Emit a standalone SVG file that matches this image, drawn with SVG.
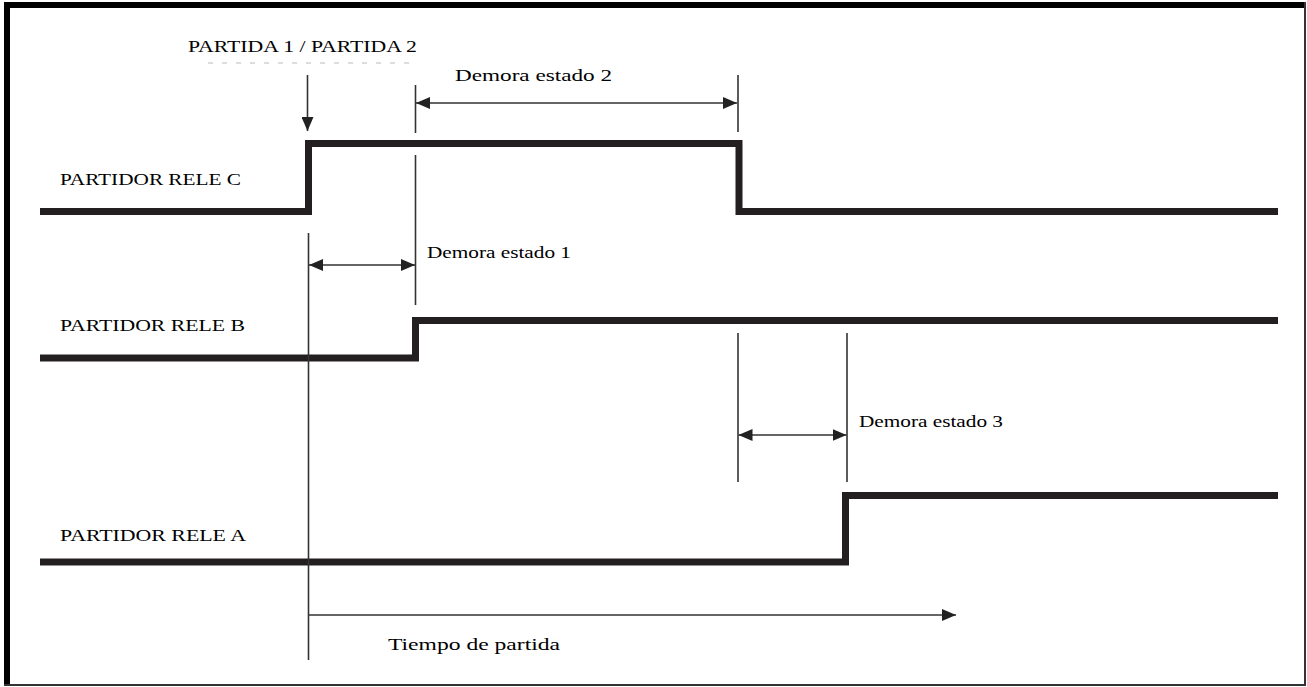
<svg xmlns="http://www.w3.org/2000/svg" width="1307" height="687" viewBox="0 0 1307 687">
<style>
.wave{fill:none;stroke:#231f20;stroke-width:7;stroke-linejoin:miter;stroke-linecap:butt}
.thin{fill:none;stroke:#333;stroke-width:1.6}
.lbl{font-family:"Liberation Serif","Times New Roman",serif;font-size:17px;fill:#000}
</style>
<defs>
<marker id="ah" viewBox="0 0 14 12" refX="14" refY="6" markerWidth="14" markerHeight="12" markerUnits="userSpaceOnUse" orient="auto-start-reverse">
<path d="M0 0 L14 6 L0 12 Z" fill="#222"/>
</marker>
</defs>
<rect x="0" y="0" width="1307" height="687" fill="#fff"/>
<g id="frame">
<line x1="4" y1="5" x2="1306" y2="5" stroke="#000" stroke-width="6"/>
<line x1="7" y1="2" x2="7" y2="686" stroke="#000" stroke-width="6"/>
<line x1="1305" y1="2" x2="1305" y2="686" stroke="#333" stroke-width="2"/>
<line x1="4" y1="685" x2="1306" y2="685" stroke="#333" stroke-width="2"/>
</g>
<g id="signal-c">
<path class="wave" d="M40 211.5 H308.5 V143.5 H739 V211.5 H1278"/>
<text class="lbl" x="60" y="185" textLength="181" lengthAdjust="spacingAndGlyphs">PARTIDOR RELE C</text>
</g>
<g id="signal-b">
<path class="wave" d="M40 358 H415.5 V320.5 H1278"/>
<text class="lbl" x="60" y="331" textLength="185" lengthAdjust="spacingAndGlyphs">PARTIDOR RELE B</text>
</g>
<g id="signal-a">
<path class="wave" d="M40 562 H845.5 V495.5 H1278"/>
<text class="lbl" x="60" y="541" textLength="186" lengthAdjust="spacingAndGlyphs">PARTIDOR RELE A</text>
</g>
<g id="start-label">
<text class="lbl" x="188" y="52" textLength="229" lengthAdjust="spacingAndGlyphs">PARTIDA 1 / PARTIDA 2</text>
<line x1="208" y1="63" x2="410" y2="63" stroke="#bbb" stroke-width="1.2" stroke-dasharray="5 9"/>
</g>
<g id="connectors">
<line class="thin" x1="307.5" y1="75" x2="307.5" y2="131" marker-end="url(#ah)"/>
<line class="thin" x1="415.5" y1="85" x2="415.5" y2="133"/>
<line class="thin" x1="415.5" y1="155" x2="415.5" y2="305"/>
<line class="thin" x1="738" y1="75" x2="738" y2="132"/>
<line class="thin" x1="416" y1="103" x2="737" y2="103" marker-start="url(#ah)" marker-end="url(#ah)"/>
<line class="thin" x1="308.5" y1="233" x2="308.5" y2="660"/>
<line class="thin" x1="309" y1="265" x2="415" y2="265" marker-start="url(#ah)" marker-end="url(#ah)"/>
<line class="thin" x1="738" y1="333" x2="738" y2="482"/>
<line class="thin" x1="847" y1="333" x2="847" y2="482"/>
<line class="thin" x1="738.5" y1="435" x2="846.5" y2="435" marker-start="url(#ah)" marker-end="url(#ah)"/>
<line class="thin" x1="309" y1="615" x2="956" y2="615" marker-end="url(#ah)"/>
</g>
<g id="labels">
<text class="lbl" x="455" y="81" textLength="157" lengthAdjust="spacingAndGlyphs">Demora estado 2</text>
<text class="lbl" x="427" y="258" textLength="144" lengthAdjust="spacingAndGlyphs">Demora estado 1</text>
<text class="lbl" x="859" y="427" textLength="144" lengthAdjust="spacingAndGlyphs">Demora estado 3</text>
<text class="lbl" x="388" y="650" textLength="172" lengthAdjust="spacingAndGlyphs">Tiempo de partida</text>
</g>
</svg>
